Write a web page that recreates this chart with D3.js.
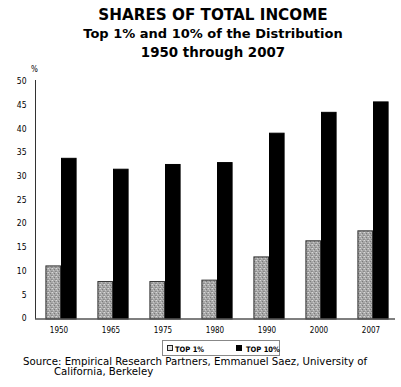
<!DOCTYPE html>
<html><head><meta charset="utf-8">
<script src="https://cdn.jsdelivr.net/npm/d3@7"></script>
<style>body{margin:0;background:#fff}svg{display:block}</style>
</head><body>
<script>
const years = ["1950","1965","1975","1980","1990","2000","2007"];
const top1 = [11.2, 7.9, 7.9, 8.2, 13.1, 16.5, 18.6];
const top10 = [33.9, 31.6, 32.6, 33.0, 39.2, 43.6, 45.8];
const seriesNames = ["TOP 1%", "TOP 10%"];
const yTicks = [0,5,10,15,20,25,30,35,40,45,50];
const titleLines = ["SHARES OF TOTAL INCOME","Top 1% and 10% of the Distribution","1950 through 2007"];
const sourceLines = ["Source: Empirical Research Partners, Emmanuel Saez, University of","California, Berkeley"];

const W = 401, H = 387;
const svg = d3.select("body").append("svg").attr("width", W).attr("height", H);
const font = "DejaVu Sans, Verdana, sans-serif";
const fontC = "DejaVu Sans Condensed, DejaVu Sans, sans-serif";

const defs = svg.append("defs");
const pat = defs.append("pattern").attr("id","stip").attr("patternUnits","userSpaceOnUse").attr("width",4).attr("height",4);
pat.append("rect").attr("width",4).attr("height",4).attr("fill","#a8a8a8");
[[0,0,"#d8d8d8"],[2,1,"#7a7a7a"],[1,2,"#c8c8c8"],[3,3,"#888"],[3,0,"#bbb"],[0,3,"#949494"]].forEach(([a,b,c])=>pat.append("rect").attr("x",a).attr("y",b).attr("width",1).attr("height",1).attr("fill",c));

const y = d3.scaleLinear().domain([0,50]).range([319,82]);
const x0 = d3.scaleBand().domain(years).range([35,399]).paddingInner(0.4).paddingOuter(0.2);
const x1 = d3.scaleBand().domain(seriesNames).range([0, x0.bandwidth()]);

// titles
const tSizes = [15.2, 13, 13.4];
const tY = [20, 38, 57];
titleLines.forEach((t,i)=>{
  svg.append("text").attr("x",213).attr("y",tY[i]).attr("text-anchor","middle")
    .attr("font-family",font).attr("font-weight","bold").attr("font-size",tSizes[i]).attr("fill","#000").text(t);
});

// y axis
const yAxis = d3.axisLeft(y).tickValues(yTicks).tickSize(0).tickPadding(9);
const gy = svg.append("g").attr("transform","translate(35.5,0)").call(yAxis);
gy.select(".domain").attr("stroke","#333").attr("d", `M0,${y(50)-2}V${y(0)}`);
gy.selectAll("text").attr("font-family",fontC).attr("font-size",8.5).attr("fill","#000").attr("dy","0.2em");
svg.append("text").attr("x",34.5).attr("y",72).attr("text-anchor","middle").attr("font-family",fontC).attr("font-size",8).text("%");

// bars
const data = years.map((yr,i)=>({yr, vals:[top1[i], top10[i]]}));
const g = svg.append("g");
data.forEach(d=>{
  d.vals.forEach((v,j)=>{
    g.append("rect")
      .attr("x", x0(d.yr) + x1(seriesNames[j]) + 0.5)
      .attr("y", y(v))
      .attr("width", x1.bandwidth() - 1)
      .attr("height", y(0) - y(v))
      .attr("fill", j===0 ? "url(#stip)" : "#000")
      .attr("stroke", j===0 ? "#333" : "#000")
      .attr("stroke-width", 1);
  });
});

// x axis
const xAxis = d3.axisBottom(x0).tickSize(0).tickPadding(8);
const gx = svg.append("g").attr("transform",`translate(0,${y(0)})`).call(xAxis);
gx.select(".domain").attr("stroke","#555").attr("stroke-width",1.5).attr("d","M35,0H395");
gx.selectAll("text").attr("font-family",fontC).attr("font-size",8).attr("fill","#000").attr("dx",-2);

// legend
const lg = svg.append("g");
lg.append("rect").attr("x",162.5).attr("y",340.5).attr("width",117).attr("height",15).attr("fill","#fff").attr("stroke","#888");
lg.append("rect").attr("x",167.5).attr("y",345.5).attr("width",5).attr("height",5).attr("fill","#e0e0e0").attr("stroke","#222");
lg.append("text").attr("x",175).attr("y",351.5).attr("font-family",fontC).attr("font-weight","bold").attr("font-size",7.5).text(seriesNames[0]);
lg.append("rect").attr("x",236).attr("y",345).attr("width",6).attr("height",6).attr("fill","#000");
lg.append("text").attr("x",246).attr("y",351.5).attr("font-family",fontC).attr("font-weight","bold").attr("font-size",7.5).text(seriesNames[1]);

// source
svg.append("text").attr("x",23).attr("y",364.5).attr("font-family",font).attr("font-size",10.2).text(sourceLines[0]);
svg.append("text").attr("x",54).attr("y",374.5).attr("font-family",font).attr("font-size",10.2).text(sourceLines[1]);
</script>
</body></html>
